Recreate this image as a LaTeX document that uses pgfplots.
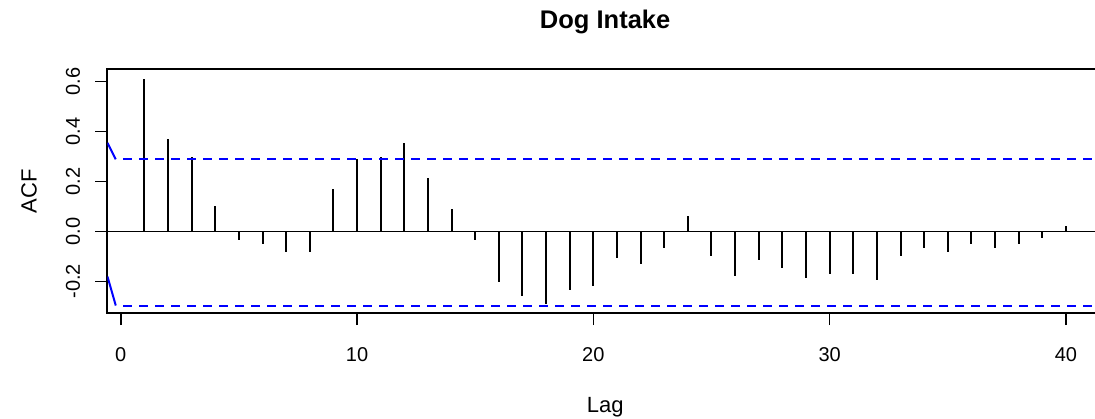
\documentclass[border=0pt]{standalone}
\usepackage{fontspec}
\setmainfont{Liberation Sans}
\usepackage{pgfplots}
\usepackage{pgfplotstable}
\pgfplotsset{compat=1.18}

% sample autocorrelation of the dog intake series, lags 1..40
\pgfplotstableread{
lag acf
1  0.609
2  0.369
3  0.297
4  0.100
5  -0.035
6  -0.049
7  -0.083
8  -0.083
9  0.171
10 0.289
11 0.297
12 0.353
13 0.212
14 0.091
15 -0.035
16 -0.203
17 -0.259
18 -0.292
19 -0.235
20 -0.219
21 -0.107
22 -0.131
23 -0.067
24 0.060
25 -0.100
26 -0.180
27 -0.113
28 -0.147
29 -0.187
30 -0.171
31 -0.171
32 -0.195
33 -0.099
34 -0.067
35 -0.083
36 -0.051
37 -0.067
38 -0.051
39 -0.027
40 0.020
}\acfdata

\begin{document}
\begin{tikzpicture}
\useasboundingbox (-107.5bp,-106bp) rectangle (987.5bp,313bp);
\begin{axis}[
  at={(0bp,0bp)}, anchor=south west,
  scale only axis, width=995.3bp, height=243.7bp,
  xmin=-0.56, xmax=41.56, ymin=-0.3268, ymax=0.648,
  xtick={0,10,20,30,40},
  xticklabels={0,10,20,30,40},
  ytick={-0.2,0,0.2,0.4,0.6},
  yticklabels={-0.2,0.0,0.2,0.4,0.6},
  xtick pos=bottom, ytick pos=left,
  tick align=outside, major tick length=12bp,
  tick style={black, line width=1.6bp},
  axis line style={black, line width=2bp},
  xticklabel style={anchor=base, inner sep=0pt, yshift=-36.7bp,
    font=\fontsize{20bp}{22bp}\selectfont},
  yticklabel style={anchor=base, inner sep=0pt, xshift=-15.5bp, rotate=90,
    font=\fontsize{20bp}{22bp}\selectfont},
  title={Dog Intake},
  every axis title/.style={at={(axis description cs:0.5,1)}, anchor=base,
    yshift=41bp, font=\bfseries\fontsize{25.5bp}{27bp}\selectfont},
  xlabel={Lag},
  every axis x label/.style={at={(axis description cs:0.5,0)}, anchor=base,
    yshift=-99.7bp, font=\fontsize{22bp}{24bp}\selectfont},
  ylabel={ACF},
  every axis y label/.style={at={(axis description cs:0,0.5)}, xshift=-70.8bp,
    rotate=90, anchor=base, font=\fontsize{22bp}{24bp}\selectfont},
]
% zero reference line
\addplot[black, line width=1.4bp, forget plot] coordinates {(-0.56,0) (41.56,0)};
% autocorrelation spikes
\addplot[ycomb, black, line width=2bp, mark=none] table[x=lag, y=acf] {\acfdata};
% significance bounds
\addplot[blue, line width=2bp] coordinates {(-0.56,0.354) (-0.21,0.288)};
\addplot[blue, line width=2bp, dash pattern=on 8.3bp off 7.7bp, dash phase=8.3bp]
  coordinates {(-0.21,0.288) (41.56,0.288)};
\addplot[blue, line width=2bp] coordinates {(-0.56,-0.181) (-0.21,-0.297)};
\addplot[blue, line width=2bp, dash pattern=on 8.3bp off 7.7bp, dash phase=8.3bp]
  coordinates {(-0.21,-0.297) (41.56,-0.297)};
\end{axis}
\end{tikzpicture}
\end{document}
